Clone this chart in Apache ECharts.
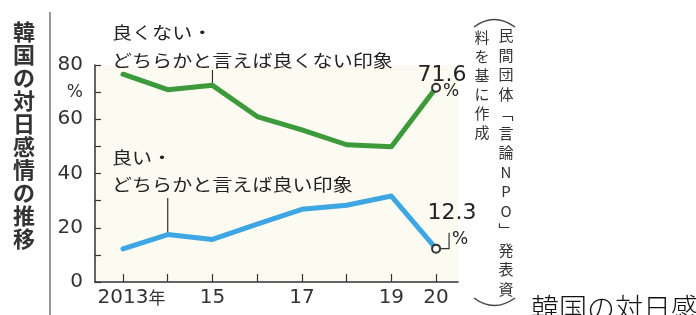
<!DOCTYPE html>
<html>
<head>
<meta charset="utf-8">
<script src="https://cdn.jsdelivr.net/npm/echarts@6/dist/echarts.min.js"></script>
<style>
  html, body { margin: 0; padding: 0; background: #fff; }
  #main { width: 696px; height: 315px; }
</style>
</head>
<body>
<div id="main"></div>
<script>
// 調査年と割合（%）
const years = [2013, 2014, 2015, 2016, 2017, 2018, 2019, 2020];
const negative = [76.6, 70.9, 72.5, 61.0, 56.1, 50.6, 49.9, 71.6]; // 良くない・どちらかと言えば良くない
const positive = [12.2, 17.5, 15.7, 21.3, 26.8, 28.3, 31.7, 12.3]; // 良い・どちらかと言えば良い
const xLabelYears = [2013, 2015, 2017, 2019, 2020];
const yLabelValues = [0, 20, 40, 60, 80];

const JP = '"Noto Sans CJK JP", sans-serif';
const NUM = '"DejaVu Sans", sans-serif';

function toSeries(vals) {
  return years.map((y, i) => {
    if (i === years.length - 1) {
      return {
        value: [y, vals[i]],
        symbol: 'circle',
        symbolSize: 8,
        itemStyle: { color: '#fff', borderColor: '#333', borderWidth: 2 }
      };
    }
    return [y, vals[i]];
  });
}

let chart = echarts.init(document.getElementById('main'));

let option = {
  animation: false,
  grid: {
    left: 95, right: 238, top: 65, bottom: 33,
    show: true, backgroundColor: '#fbfbf1', borderWidth: 0
  },
  xAxis: {
    type: 'value',
    min: 2012.374,
    max: 2020.49,
    axisLine: { lineStyle: { color: '#333', width: 1.5 } },
    axisTick: { inside: true, length: 8, customValues: years, lineStyle: { color: '#333', width: 1.2 } },
    splitLine: { show: false },
    axisLabel: {
      customValues: xLabelYears,
      margin: 6,
      color: '#333',
      fontFamily: NUM,
      fontSize: 20,
      formatter: function (v) {
        if (v === 2013) return '{g|年}2013{n|年}';
        return String(v % 100);
      },
      rich: {
        g: { color: 'rgba(0,0,0,0)', fontFamily: JP, fontSize: 17 },
        n: { color: '#333', fontFamily: JP, fontSize: 17 }
      }
    }
  },
  yAxis: {
    type: 'value',
    min: 0, max: 80, interval: 10,
    axisLine: { show: true, lineStyle: { color: '#333', width: 1.5 } },
    axisTick: { show: true, inside: true, length: 6, lineStyle: { color: '#333', width: 1.2 } },
    splitLine: { show: false },
    axisLabel: {
      margin: 12,
      color: '#333',
      fontFamily: NUM,
      fontSize: 20,
      formatter: function (v) {
        if (yLabelValues.indexOf(v) >= 0) return String(v);
        if (v === 70) return '{p|%}';
        return '';
      },
      rich: { p: { fontFamily: NUM, fontSize: 17, color: '#333' } }
    }
  },
  series: [
    {
      name: '良くない・どちらかと言えば良くない印象',
      type: 'line',
      symbol: 'none',
      data: toSeries(negative),
      lineStyle: { color: '#3d9a3a', width: 5, cap: 'round', join: 'round' },
      z: 3
    },
    {
      name: '良い・どちらかと言えば良い印象',
      type: 'line',
      symbol: 'none',
      data: toSeries(positive),
      lineStyle: { color: '#3ea6e2', width: 5, cap: 'round', join: 'round' },
      z: 3
    }
  ]
};
chart.setOption(option);

// 注記と引き出し線（位置はデータから換算）
const p = (x, y) => chart.convertToPixel({ gridIndex: 0 }, [x, y]);
const g15 = p(2015, negative[2]);
const b14 = p(2014, positive[1]);
const g20 = p(2020, negative[7]);
const b20 = p(2020, positive[7]);

const vText = (s) => s.split('').join('\n');

chart.setOption({
  graphic: [
    // 左の縦見出し
    { type: 'text', x: 24, y: 20, style: { text: vText('韓国の対日感情の推移'), fontFamily: JP, fontSize: 22, fontWeight: 'bold', lineHeight: 23, fill: '#333', align: 'center', verticalAlign: 'top' } },
    { type: 'line', shape: { x1: 50, y1: 12, x2: 50, y2: 315 }, style: { stroke: '#999', lineWidth: 2 } },
    // 凡例代わりの注記
    { type: 'text', x: 112, y: 19, scaleX: 1.18, style: { text: '良くない・\nどちらかと言えば良くない印象', fontFamily: JP, fontSize: 17, lineHeight: 28, fill: '#222', align: 'left', verticalAlign: 'top' } },
    { type: 'line', shape: { x1: g15[0], y1: 70, x2: g15[0], y2: g15[1] }, style: { stroke: '#333', lineWidth: 1.2 } },
    { type: 'text', x: 112, y: 144, scaleX: 1.18, style: { text: '良い・\nどちらかと言えば良い印象', fontFamily: JP, fontSize: 17, lineHeight: 27, fill: '#222', align: 'left', verticalAlign: 'top' } },
    { type: 'line', shape: { x1: b14[0], y1: 198, x2: b14[0], y2: b14[1] }, style: { stroke: '#333', lineWidth: 1.2 } },
    // 2020年の値
    { type: 'text', x: 442, y: 75, style: { text: '71.6', fontFamily: NUM, fontSize: 22, fill: '#222', align: 'center', verticalAlign: 'middle' } },
    { type: 'text', x: g20[0] + 7, y: g20[1] + 4, style: { text: '%', fontFamily: NUM, fontSize: 17, fill: '#222', align: 'left', verticalAlign: 'middle' } },
    { type: 'text', x: 452, y: 213, style: { text: '12.3', fontFamily: NUM, fontSize: 22, fill: '#222', align: 'center', verticalAlign: 'middle' } },
    { type: 'polyline', shape: { points: [[b20[0] + 5, b20[1]], [b20[0] + 13, b20[1]], [b20[0] + 13, b20[1] - 16]] }, style: { stroke: '#333', lineWidth: 1.2, fill: null } },
    { type: 'text', x: b20[0] + 16, y: b20[1] - 9, style: { text: '%', fontFamily: NUM, fontSize: 17, fill: '#222', align: 'left', verticalAlign: 'middle' } },
    // 出典（縦書き）
    { type: 'text', x: 506, y: 26, style: { text: vText('民間団体﹁言論NPO﹂発表資'), fontFamily: JP, fontSize: 15, lineHeight: 19.5, fill: '#333', align: 'center', verticalAlign: 'top' } },
    { type: 'text', x: 482, y: 28, style: { text: vText('料を基に作成'), fontFamily: JP, fontSize: 15, lineHeight: 19, fill: '#333', align: 'center', verticalAlign: 'top' } },
    { type: 'bezierCurve', shape: { x1: 474, y1: 27, cpx1: 494, cpy1: 12, x2: 515, y2: 27 }, style: { stroke: '#444', lineWidth: 1.5, fill: null } },
    { type: 'bezierCurve', shape: { x1: 474, y1: 298, cpx1: 494, cpy1: 313, x2: 515, y2: 298 }, style: { stroke: '#444', lineWidth: 1.5, fill: null } },
    // 下部のキャプション（途中で切れている）
    { type: 'text', x: 531, y: 294, style: { text: '韓国の対日感情の推移', fontFamily: JP, fontSize: 28, fontWeight: 300, fill: '#111', align: 'left', verticalAlign: 'top' } }
  ]
});

window.addEventListener('resize', () => { chart.resize(); });
</script>
</body>
</html>
